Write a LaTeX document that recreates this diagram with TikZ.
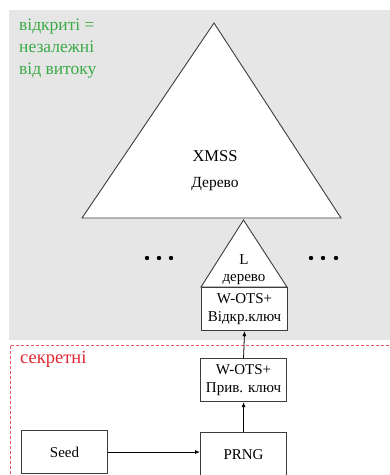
\documentclass[tikz,border=0pt]{standalone}
\usepackage{fontspec}
\setmainfont{Liberation Serif}
\usetikzlibrary{arrows.meta}
\definecolor{bggray}{RGB}{230,230,230}
\definecolor{txtgreen}{RGB}{60,170,70}
\definecolor{txtred}{RGB}{225,40,50}
\definecolor{edge}{RGB}{60,60,60}
\begin{document}
\begin{tikzpicture}[x=1pt,y=-1pt,
  keybox/.style={draw=edge,line width=1.1pt,fill=white,minimum width=86pt,minimum height=43pt,inner sep=0pt,align=center,font=\fontsize{15}{18}\selectfont},
  tri/.style={draw=edge,line width=0.9pt,fill=white,line join=miter},
  conn/.style={draw=black,line width=0.8pt,-{Latex[length=5pt,width=4pt]}},
  dotsty/.style={circle,fill=black,inner sep=0pt,minimum size=4.4pt}
]
\useasboundingbox (0,0) rectangle (390,475);
% backgrounds
\fill[bggray] (9,10) rectangle (392,340);
\draw[txtred!80,dashed,line width=0.8pt,dash pattern=on 3pt off 2pt] (10,474) -- (10,345) -- (395,345);
% big triangle
\draw[tri] (214,23) -- (341,218) -- (82,218) -- cycle;
\node[align=center,font=\fontsize{16.5}{26}\selectfont] (xmss) at (215,171) {XMSS\\{\fontsize{15.5}{18}\selectfont Дерево}};
% small triangle
\draw[tri] (243.5,220) -- (287,287) -- (201,287) -- cycle;
\node[align=center,font=\fontsize{15}{17}\selectfont] (ltree) at (244,270) {L\\дерево};
% dots
\foreach \i/\xx in {1/147,2/159,3/171}{\node[dotsty] (ld\i) at (\xx,258) {};}
\foreach \i/\xx in {1/311,2/323,3/336}{\node[dotsty] (rd\i) at (\xx,258) {};}
% boxes
\node[keybox,anchor=north west] (pub) at (201,287) {W-OTS+\\Відкр.ключ};
\node[keybox,anchor=north west] (priv) at (200,358) {W-OTS+\\Прив. ключ};
\node[keybox,anchor=north west,minimum height=45pt] (prng) at (200,432) {PRNG};
\node[keybox,anchor=north west,minimum height=43pt] (seed) at (21,430) {Seed};
% labels
\node[anchor=north west,align=left,text=txtgreen,font=\fontsize{17.5}{22}\selectfont,inner sep=0pt] (open) at (19,19) {відкриті =\\незалежні\\від витоку};
\node[anchor=north west,text=txtred,font=\fontsize{18.5}{20}\selectfont,inner sep=0pt] (secret) at (20,351) {секретні};
% connectors
\draw[conn] (seed.east |- 0,452) -- (prng.west |- 0,452);
\draw[conn] (prng.north) -- (priv.south);
\draw[conn] (priv.north) -- (pub.south);
\end{tikzpicture}
\end{document}
